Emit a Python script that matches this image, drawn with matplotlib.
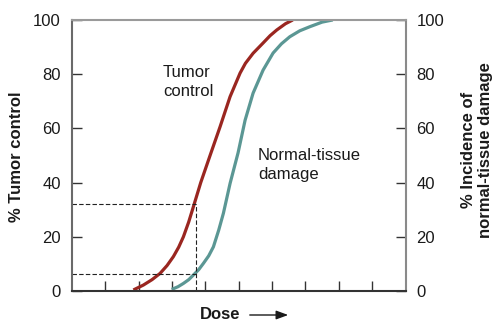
import matplotlib
matplotlib.use("Agg")
from matplotlib import pyplot as plt

plt.rcParams["font.family"] = ["Liberation Sans", "DejaVu Sans"]

# Dose-response curves (dose in arbitrary units, response in %)
tumorDose = [1.84, 2.14, 2.40, 2.64, 2.85, 3.04, 3.20, 3.34, 3.50, 3.64, 3.86, 4.14, 4.44,
             4.74, 5.04, 5.20, 5.43, 5.73, 5.94, 6.14, 6.40, 6.62]
tumorControl = [0.4, 2.2, 4.2, 6.5, 9.4, 12.7, 16.2, 20, 25.5, 31.1, 40, 50, 60.6,
                71.7, 80.4, 84.0, 87.7, 91.5, 94.2, 96.3, 98.6, 100]

normalDose = [2.99, 3.18, 3.34, 3.50, 3.64, 3.80, 3.94, 4.10, 4.24, 4.40, 4.54, 4.74, 4.98,
              5.19, 5.43, 5.73, 6.03, 6.28, 6.53, 6.83, 7.13, 7.50, 7.82]
normalDamage = [0.6, 1.6, 2.8, 4.2, 5.9, 7.9, 10.2, 13.0, 16.3, 22.5, 28.7, 39.7, 51,
                63, 73, 81.5, 87.8, 91.2, 93.8, 96.0, 97.5, 99.2, 100]

# chosen dose and the two responses it gives
markDose = 3.71
markTumor = 32
markNormal = 6.3

yTicks = [0, 20, 40, 60, 80, 100]
xTicks = [1, 2, 3, 4, 5, 6, 7, 8, 9]

red = "#9a2620"
teal = "#5b9794"
textColor = "#1a1a1a"

fig = plt.figure(figsize=(5.0, 3.27), dpi=100)
ax = fig.add_axes([0.144, 0.110, 0.667, 0.829])

ax.plot(tumorDose, tumorControl, color=red, linewidth=2.3,
        solid_capstyle="butt", solid_joinstyle="round")
ax.plot(normalDose, normalDamage, color=teal, linewidth=2.3,
        solid_capstyle="butt", solid_joinstyle="round")

# dashed guides
dash = dict(color="#222222", linewidth=0.8, dashes=(4, 2))
ax.plot([0, markDose], [markTumor, markTumor], **dash)
ax.plot([0, markDose], [markNormal, markNormal], **dash)
ax.plot([markDose, markDose], [0, markTumor], **dash)

ax.set_xlim(0, 10)
ax.set_ylim(0, 100)
ax.set_xticks(xTicks)
ax.set_xticklabels([])
ax.set_yticks(yTicks)

ax.tick_params(axis="x", direction="in", length=7, width=1.0, color="#333333")
ax.tick_params(axis="y", direction="in", length=7, width=1.0, color="#333333",
               left=True, right=True, labelleft=True, labelright=True,
               labelsize=12, labelcolor=textColor, pad=8)

ax.spines["top"].set_color("#9a9a9a")
ax.spines["right"].set_color("#8a8a8a")
ax.spines["left"].set_color("#6a6a6a")
ax.spines["bottom"].set_color("#333333")
for s in ax.spines.values():
    s.set_linewidth(1.5)

# curve names
ax.text(2.73, 77.1, "Tumor\ncontrol", fontsize=12, color=textColor,
        ha="left", va="center", linespacing=1.3)
ax.text(5.58, 46.5, "Normal-tissue\ndamage", fontsize=12, color=textColor,
        ha="left", va="center", linespacing=1.4)

# axis titles
fig.text(0.034, 0.521, "% Tumor control", rotation=90, fontsize=12,
         fontweight="bold", color=textColor, ha="center", va="center")
fig.text(0.954, 0.541, "% Incidence of\nnormal-tissue damage", rotation=90,
         fontsize=12, fontweight="bold", color=textColor, ha="center",
         va="center", multialignment="center", linespacing=1.2)
fig.text(0.441, 0.0367, "Dose", fontsize=12, fontweight="bold",
         color=textColor, ha="center", va="center")
fig.add_artist(matplotlib.patches.FancyArrowPatch(
    (0.494, 0.0367), (0.582, 0.0367), transform=fig.transFigure,
    arrowstyle="-|>,head_length=0.6,head_width=0.22", mutation_scale=12,
    color=textColor, linewidth=1.0))

fig.savefig("out.png", dpi=100)
